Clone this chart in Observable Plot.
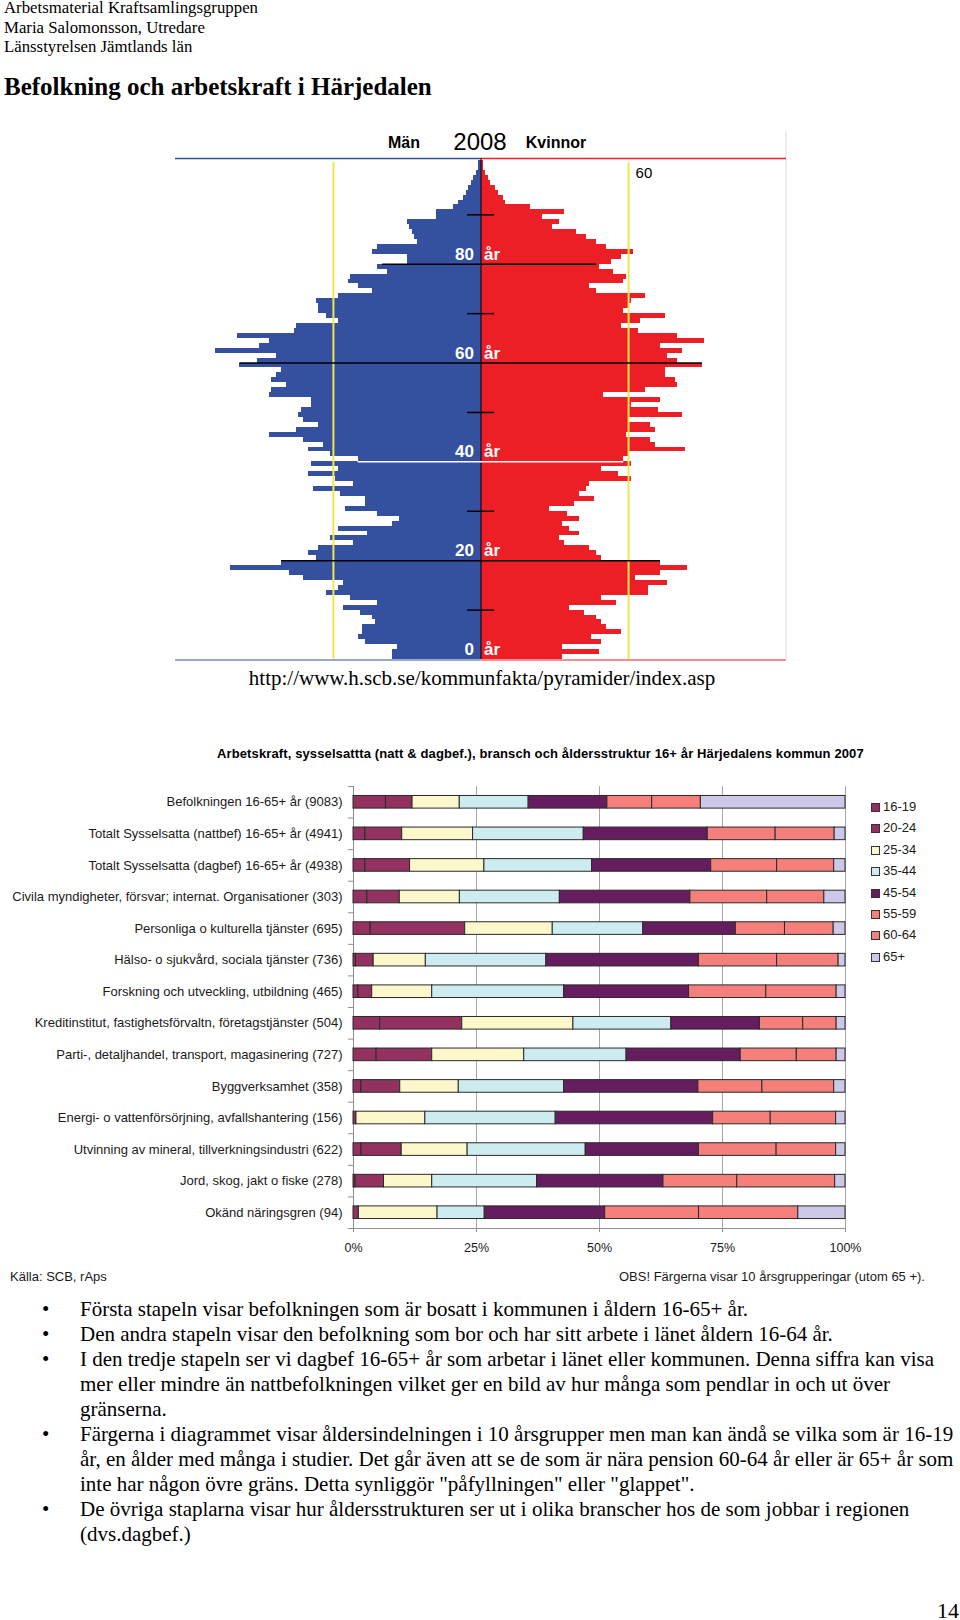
<!DOCTYPE html>
<html><head><meta charset="utf-8">
<script src="https://cdn.jsdelivr.net/npm/d3@7"></script>
<script src="https://cdn.jsdelivr.net/npm/@observablehq/plot@0.6"></script>
<style>
html,body{margin:0;padding:0;background:#fff;}
body{width:960px;height:1620px;position:relative;overflow:hidden;}
.abs{position:absolute;white-space:nowrap;}
.serif{font-family:"Liberation Serif","Times New Roman",serif;color:#000;}
.sans{font-family:"Liberation Sans",Arial,sans-serif;color:#1a1a1a;}
.b{position:relative;padding-left:80px;}
.b::before{content:"•";position:absolute;left:42px;}
.leg{position:absolute;left:871px;font-size:13px;line-height:14px;height:14px;white-space:nowrap;}
.leg span.sw{position:absolute;left:0;top:3px;width:7px;height:7px;border:1px solid #333;}
.leg span.t{position:absolute;left:12px;top:0;}
</style></head><body>

<div class="abs serif" style="left:4px;top:-2px;font-size:16.8px;line-height:19.5px">Arbetsmaterial Kraftsamlingsgruppen<br>Maria Salomonsson, Utredare<br>Länsstyrelsen Jämtlands län</div>
<div class="abs serif" style="left:4px;top:73px;font-size:25px;line-height:27px;font-weight:bold">Befolkning och arbetskraft i Härjedalen</div>

<div class="abs sans" style="left:404px;top:135px;font-size:16px;line-height:16px;font-weight:bold;transform:translateX(-50%);color:#000">Män</div>
<div class="abs sans" style="left:480px;top:130px;font-size:24px;line-height:24px;transform:translateX(-50%);color:#000">2008</div>
<div class="abs sans" style="left:556px;top:135px;font-size:16px;line-height:16px;font-weight:bold;transform:translateX(-50%);color:#000">Kvinnor</div>
<div id="pyr" class="abs" style="left:175px;top:125px"></div>
<div class="abs serif" style="left:482px;top:666px;font-size:21px;line-height:24px;transform:translateX(-50%)">http://www.h.scb.se/kommunfakta/pyramider/index.asp</div>

<div class="abs sans" style="left:217px;top:747px;font-size:13px;line-height:14px;font-weight:bold;letter-spacing:0.12px;color:#000">Arbetskraft, sysselsattta (natt &amp; dagbef.), bransch och åldersstruktur 16+ år Härjedalens kommun 2007</div>
<div id="bars" class="abs" style="left:0;top:770px"></div>
<div id="legend" class="sans"></div>

<div class="abs sans" style="left:10px;top:1270px;font-size:13px;line-height:14px">Källa: SCB, rAps</div>
<div class="abs sans" style="right:35px;top:1270px;font-size:13px;line-height:14px">OBS! Färgerna visar 10 årsgrupperingar (utom 65 +).</div>

<div class="abs serif" style="left:0;top:1297px;font-size:21px;line-height:25px">
<div class="b">Första stapeln visar befolkningen som är bosatt i kommunen i åldern 16-65+ år.</div>
<div class="b">Den andra stapeln visar den befolkning som bor och har sitt arbete i länet åldern 16-64 år.</div>
<div class="b">I den tredje stapeln ser vi dagbef 16-65+ år som arbetar i länet eller kommunen. Denna siffra kan visa<br>mer eller mindre än nattbefolkningen vilket ger en bild av hur många som pendlar in och ut över<br>gränserna.</div>
<div class="b">Färgerna i diagrammet visar åldersindelningen i 10 årsgrupper men man kan ändå se vilka som är 16-19<br>år, en ålder med många i studier. Det går även att se de som är nära pension 60-64 år eller är 65+ år som<br>inte har någon övre gräns. Detta synliggör "påfyllningen" eller "glappet".</div>
<div class="b">De övriga staplarna visar hur åldersstrukturen ser ut i olika branscher hos de som jobbar i regionen<br>(dvs.dagbef.)</div>
</div>
<div class="abs serif" style="left:937px;top:1600px;font-size:22px;line-height:22px">14</div>

<script>
// ---------- Population pyramid 2008 (persons per one-year age class, age 0..100) ----------
const ages = d3.range(0, 101);
const men = [36,36,34,47,50,48,48,43,44,49, 56,42,53,63,58,56,72,78,102,81,
  67,70,66,52,61,46,58,36,33,42, 55,47,47,57,68,52,59,70,58,69,
  50,61,70,64,72,86,75,66,72,74, 73,69,69,86,85,79,85,83,81,98,
  91,83,108,90,86,99,76,75,58,63, 66,66,67,58,44,50,54,53,38,42,
  30,30,44,42,26,27,28,29,30,18, 18,11,9,7,6,5,4,3,2,1, 1];
const women = [33,48,33,49,45,57,51,49,47,42, 36,55,49,68,68,76,63,73,84,73,
  49,47,44,34,32,40,36,33,40,35, 28,38,46,40,43,44,61,56,49,61,
  58,60,83,71,69,59,71,69,60,82, 72,61,73,50,67,80,79,75,75,90,
  80,76,82,73,91,80,64,57,65,75, 58,60,61,67,47,44,58,59,54,48,
  53,57,62,51,47,43,39,29,32,25, 34,20,10,9,7,6,4,3,2,1, 1];
const refValue = [60];                 // yellow reference lines (persons)
const markAges = [80, 60, 40, 20];     // long marker lines
const markLeft = [40, 98, 50, 81];
const markRight = [47, 90, 58, 73];
const markColor = ["#000", "#000", "#fff", "#000"];
const tickAges = [90, 70, 50, 30, 10];
const labelAges = [80, 60, 40, 20, 0];

const BLUE = "#34509f", RED = "#ec1f26", YELLOW = "#f2e64a";
const xMax = 124.2, ageTop = 101.4;
const pyrData = ages.map((a, i) => ({age: a, men: men[i], women: women[i]}));
const marks = markAges.map((a, i) => ({age: a, left: markLeft[i], right: markRight[i], color: markColor[i]}));

const pyr = Plot.plot({
  width: 611, height: 537, marginTop: 33, marginBottom: 3, marginLeft: 0, marginRight: 0,
  x: {domain: [-xMax, xMax], axis: null},
  y: {domain: [0, ageTop], axis: null},
  style: {fontFamily: "Liberation Sans, Arial, sans-serif", background: "transparent", overflow: "visible"},
  marks: [
    Plot.rect(pyrData, {x1: d => -d.men, x2: 0, y1: "age", y2: d => d.age + 1, fill: BLUE, shapeRendering: "crispEdges"}),
    Plot.rect(pyrData, {x1: 0, x2: "women", y1: "age", y2: d => d.age + 1, fill: RED, shapeRendering: "crispEdges"}),
    Plot.ruleX([xMax], {y1: 0, y2: 107, stroke: "#dcdcdc", dx: -0.5}),
    Plot.ruleY([ageTop], {x1: -xMax, x2: 0, stroke: BLUE, strokeWidth: 1.5}),
    Plot.ruleY([ageTop], {x1: 0, x2: xMax, stroke: RED, strokeWidth: 1.5}),
    Plot.ruleY([0], {x1: -xMax, x2: 0, stroke: BLUE, strokeWidth: 1, dy: 0.5}),
    Plot.ruleY([0], {x1: 0, x2: xMax, stroke: RED, strokeWidth: 1, dy: 0.5}),
    Plot.ruleX(refValue.flatMap(v => [-v, v]), {y1: 0, y2: 100.6, stroke: YELLOW, strokeWidth: 2}),
    Plot.ruleX([0], {y1: 0, y2: ageTop, stroke: "#000", strokeWidth: 1}),
    Plot.ruleY(marks, {y: "age", x1: d => -d.left, x2: "right", stroke: d => d.color, strokeWidth: 1.5}),
    Plot.ruleY(tickAges, {y: d => d, x1: 0, x2: 0, insetLeft: -13.5, insetRight: -13.5, stroke: "#000", strokeWidth: 1.5}),
    Plot.text(labelAges, {x: 0, y: d => d, text: d => String(d), textAnchor: "end", dx: -7, dy: -10, fill: "#fff", fontSize: 17, fontWeight: "bold"}),
    Plot.text(labelAges, {x: 0, y: d => d, text: () => "år", textAnchor: "start", dx: 3, dy: -10, fill: "#fff", fontSize: 17, fontWeight: "bold"}),
    Plot.text(refValue, {x: d => d, y: ageTop, text: d => String(d), textAnchor: "start", dx: 7, dy: 15, fill: "#000", fontSize: 15})
  ]
});
document.getElementById("pyr").append(pyr);

// ---------- Stacked bars: age structure by branch ----------
const categories = [
  "Befolkningen 16-65+ år (9083)",
  "Totalt Sysselsatta (nattbef) 16-65+ år (4941)",
  "Totalt Sysselsatta (dagbef) 16-65+ år (4938)",
  "Civila myndigheter, försvar; internat. Organisationer (303)",
  "Personliga o kulturella tjänster (695)",
  "Hälso- o sjukvård, sociala tjänster (736)",
  "Forskning och utveckling, utbildning (465)",
  "Kreditinstitut, fastighetsförvaltn, företagstjänster (504)",
  "Parti-, detaljhandel, transport, magasinering (727)",
  "Byggverksamhet (358)",
  "Energi- o vattenförsörjning, avfallshantering (156)",
  "Utvinning av mineral, tillverkningsindustri (622)",
  "Jord, skog, jakt o fiske (278)",
  "Okänd näringsgren (94)"
];
const ageGroups = ["16-19", "20-24", "25-34", "35-44", "45-54", "55-59", "60-64", "65+"];
const ageColors = ["#933160", "#933160", "#fcf8cc", "#cdecf0", "#651d60", "#f47f7b", "#f47f7b", "#cbc8e8"];
const p16_19 = [6.6, 2.4, 2.4, 2.8, 3.5, 0.5, 1.0, 5.4, 4.7, 1.6, 0, 1.6, 0.4, 0];
const p20_24 = [5.4, 7.5, 9.1, 6.6, 19.2, 3.6, 2.8, 16.7, 11.3, 7.9, 0.6, 8.2, 5.8, 1.1];
const p25_34 = [9.6, 14.4, 15.1, 12.2, 17.8, 10.6, 12.2, 22.6, 18.7, 11.9, 14.0, 13.4, 9.8, 16.0];
const p35_44 = [14.0, 22.5, 21.9, 20.3, 18.4, 24.5, 26.8, 19.9, 20.8, 21.4, 26.5, 24.0, 21.3, 9.6];
const p45_54 = [16.0, 25.2, 24.2, 26.5, 18.8, 31.0, 25.4, 18.0, 23.2, 27.3, 32.0, 23.0, 25.7, 24.5];
const p55_59 = [9.1, 13.8, 13.4, 15.6, 10.0, 15.9, 15.7, 8.8, 11.4, 13.0, 11.7, 15.8, 15.0, 19.1];
const p60_64 = [9.9, 12.0, 11.6, 11.6, 9.9, 12.5, 14.3, 6.8, 8.1, 14.6, 13.3, 12.1, 19.9, 20.2];
const p65plus = [29.4, 2.2, 2.3, 4.3, 2.4, 1.4, 1.8, 1.8, 1.8, 2.3, 1.9, 1.9, 2.1, 9.6];
const series = [p16_19, p20_24, p25_34, p35_44, p45_54, p55_59, p60_64, p65plus];
const xTicks = [0, 0.25, 0.5, 0.75, 1];

const long = [];
categories.forEach((c, i) => ageGroups.forEach((g, j) => {
  const v = series[j][i];
  if (v > 0) long.push({cat: c, age: g, v});
}));

const H = 490, MT = 16, MB = 32;
const step = (H - MT - MB) / categories.length;
const GRAY = "#8e8e8e";
const bars = Plot.plot({
  width: 960, height: H, marginTop: MT, marginBottom: MB, marginLeft: 353, marginRight: 115,
  style: {fontFamily: "Liberation Sans, Arial, sans-serif", fontSize: "13px", color: "#1a1a1a", background: "transparent", overflow: "visible"},
  x: {domain: [0, 1]},
  y: {domain: categories, paddingInner: 0.6, paddingOuter: 0.3, round: false, label: null},
  color: {domain: ageGroups, range: ageColors},
  marks: [
    Plot.ruleX(xTicks.slice(1), {stroke: "#a6a6a6"}),
    Plot.ruleX([0], {stroke: GRAY}),
    Plot.ruleY(categories.slice(-1), {stroke: GRAY, dy: step / 2}),
    Plot.ruleY(categories, {x1: 0, x2: 0, insetLeft: -5, stroke: GRAY, dy: -step / 2}),
    Plot.ruleY(categories.slice(-1), {x1: 0, x2: 0, insetLeft: -5, stroke: GRAY, dy: step / 2}),
    Plot.barX(long, Plot.stackX({y: "cat", x: "v", fill: "age", order: ageGroups, offset: "normalize", stroke: "#2a2a2a", strokeWidth: 1})),
    Plot.axisY({tickSize: 0, tickPadding: 11, label: null, fontSize: 13}),
    Plot.axisX({ticks: xTicks, tickFormat: d3.format(".0%"), tickSize: 4, tickPadding: 11, label: null, stroke: GRAY, fontSize: 12.5})
  ]
});
document.getElementById("bars").append(bars);

// legend
const leg = document.getElementById("legend");
ageGroups.forEach((g, i) => {
  const d = document.createElement("div");
  d.className = "leg";
  d.style.top = (800 + i * 21.4) + "px";
  d.innerHTML = `<span class="sw" style="background:${ageColors[i]}"></span><span class="t">${g}</span>`;
  leg.append(d);
});
</script>
</body></html>
